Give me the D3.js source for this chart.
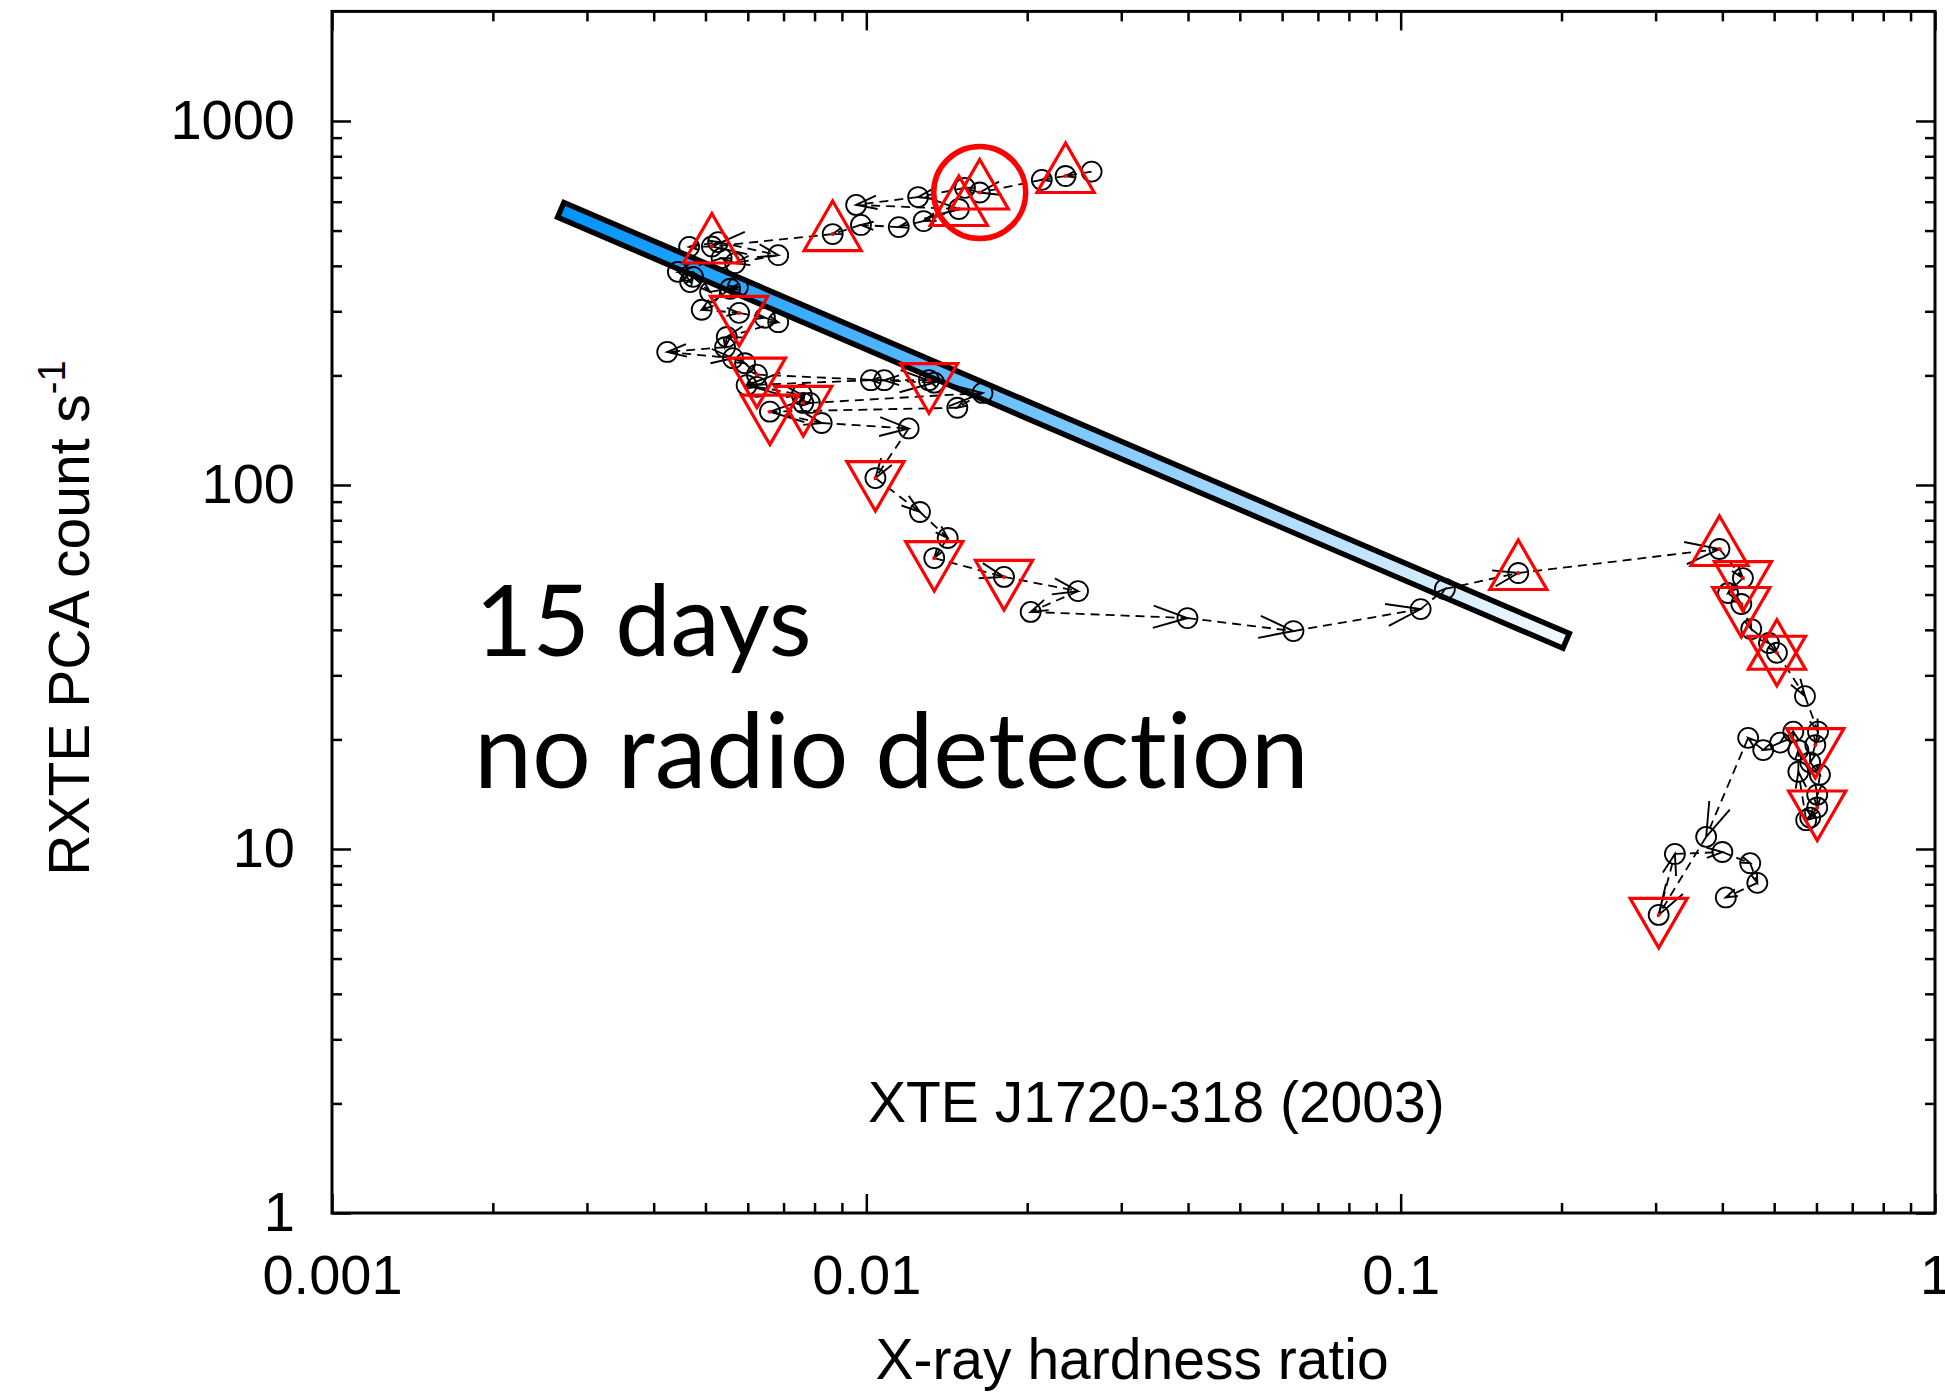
<!DOCTYPE html>
<html>
<head>
<meta charset="utf-8">
<script src="https://cdn.jsdelivr.net/npm/d3@7"></script>
<style>
  body { margin: 0; background: #fff; }
  svg text { font-family: "Liberation Sans", Arial, sans-serif; }
  .big { font-variant-ligatures: none; font-feature-settings: "liga" 0, "clig" 0; }
</style>
</head>
<body>
<script>
///////////////////////////////////////////
// Data : hardness-intensity track, XTE J1720-318 (2003), in time order
var hardness = [
  0.0264, 0.0236, 0.0213, 0.0163, 0.0153, 0.0125, 0.00957, 0.0149, 0.0128, 0.0115,
  0.00977, 0.00865, 0.00514, 0.00466, 0.00528, 0.00684, 0.00568, 0.00536, 0.00444, 0.00468,
  0.00474, 0.0051, 0.00575, 0.00556, 0.00492, 0.00578, 0.00646, 0.00684, 0.00548, 0.00544,
  0.00424, 0.00563, 0.00593, 0.00624, 0.0134, 0.0131, 0.0108, 0.0102, 0.00597, 0.00624,
  0.00757, 0.00762, 0.00784, 0.0165, 0.0148, 0.0066, 0.00825, 0.012, 0.0104, 0.0126,
  0.0142, 0.0134, 0.0181, 0.0249, 0.0203, 0.0399, 0.063, 0.109, 0.121, 0.166,
  0.395, 0.437, 0.41, 0.434, 0.453, 0.489, 0.506, 0.571, 0.604, 0.597,
  0.584, 0.609, 0.602, 0.602, 0.584, 0.574, 0.555, 0.555, 0.543, 0.513,
  0.477, 0.447, 0.373, 0.304, 0.326, 0.40, 0.451, 0.465, 0.406
];
var countRate = [
  726, 706, 689, 636, 655, 618, 588, 573, 531, 511,
  518, 489, 452, 451, 465, 428, 407, 420, 385, 361,
  373, 339, 350, 346, 303, 297, 288, 280, 255, 239,
  232, 223, 216, 201, 191, 194, 194, 194, 188, 186,
  177, 168, 168, 179, 163, 159, 148, 143, 104.5, 84.3,
  71.5, 63, 55.9, 51.1, 44.8, 43.1, 39.7, 45.6, 51.8, 57.3,
  66.7, 55.5, 50.5, 47.1, 40.2, 36.8, 34.6, 26.3, 21.0, 19.3,
  17.3, 16.0, 14.1, 13.0, 12.2, 12.0, 16.3, 18.7, 21.0, 19.6,
  18.7, 20.2, 10.8, 6.59, 9.69, 9.81, 9.14, 8.07, 7.36
];
// triangle markers: u = up, d = down, b = both, "" = none
var marker = [
  "", "u", "", "u", "", "", "", "u", "", "",
  "", "u", "u", "", "", "", "", "", "", "",
  "", "", "", "", "", "d", "", "", "", "",
  "", "", "", "d", "", "d", "", "", "", "",
  "", "d", "", "", "", "d", "", "", "d", "",
  "", "d", "d", "", "", "", "", "", "", "u",
  "u", "d", "", "d", "", "", "b", "", "", "d",
  "", "", "", "d", "", "", "", "", "", "",
  "", "", "", "d", "", "", "", "", ""
];
var circledIndex = 3;

// shaded band (jet line)
var bandHardness = [0.00268, 0.204];
var bandRate = [570, 37.3];

var xTicks = [0.001, 0.01, 0.1, 1];
var xTickLabels = ["0.001", "0.01", "0.1", "1"];
var yTicks = [1, 10, 100, 1000];
var yTickLabels = ["1", "10", "100", "1000"];

///////////////////////////////////////////
// Layout
var svgWidth = 1945, svgHeight = 1393;
var plotLeft = 332, plotRight = 1935, plotTop = 11.4, plotBottom = 1213;

var x = d3.scaleLog().domain([0.001, 1]).range([plotLeft, plotRight]);
var y = d3.scaleLog().domain([1, 2000]).range([plotBottom, plotTop]);

var svg = d3.select("body").append("svg")
  .attr("width", svgWidth).attr("height", svgHeight);

// minor ticks
var xMinor = [], yMinor = [];
[0.001, 0.01, 0.1].forEach(function(d){ for (var k = 2; k <= 9; k++) xMinor.push(d*k); });
[1, 10, 100].forEach(function(d){ for (var k = 2; k <= 9; k++) yMinor.push(d*k); });

///////////////////////////////////////////
// Band
var defs = svg.append("defs");
var b0 = [x(bandHardness[0]), y(bandRate[0])],
    b1 = [x(bandHardness[1]), y(bandRate[1])];
var grad = defs.append("linearGradient").attr("id", "bandGrad")
  .attr("gradientUnits", "userSpaceOnUse")
  .attr("x1", b0[0]).attr("y1", b0[1]).attr("x2", b1[0]).attr("y2", b1[1]);
grad.append("stop").attr("offset", 0).attr("stop-color", "#0094ff");
grad.append("stop").attr("offset", 1).attr("stop-color", "#f4f9ff");

var bl = Math.hypot(b1[0]-b0[0], b1[1]-b0[1]);
var nx = -(b1[1]-b0[1])/bl, ny = (b1[0]-b0[0])/bl, hw = 8;
svg.append("path")
  .attr("d", "M" + [b0[0]+nx*hw, b0[1]+ny*hw] + "L" + [b1[0]+nx*hw, b1[1]+ny*hw] +
             "L" + [b1[0]-nx*hw, b1[1]-ny*hw] + "L" + [b0[0]-nx*hw, b0[1]-ny*hw] + "Z")
  .attr("fill", "url(#bandGrad)")
  .attr("stroke", "#000").attr("stroke-width", 5.5).attr("stroke-linejoin", "miter");

///////////////////////////////////////////
// Track
var pts = hardness.map(function(h, i){ return [x(h), y(countRate[i])]; });
var track = svg.append("g").classed("track", true);

for (var i = 1; i < pts.length; i++) {
  var p0 = pts[i-1], p1 = pts[i];
  track.append("line")
    .attr("x1", p0[0]).attr("y1", p0[1]).attr("x2", p1[0]).attr("y2", p1[1])
    .attr("stroke", "#000").attr("stroke-width", 1.8).attr("stroke-dasharray", "9,6");
  var dx = p1[0]-p0[0], dy = p1[1]-p0[1], len = Math.hypot(dx, dy);
  if (len < 1) continue;
  var ux = dx/len, uy = dy/len;
  var L = Math.max(10, Math.min(36, 0.35*len)), a = 18*Math.PI/180;
  var w1 = [p1[0] - L*(ux*Math.cos(a) - uy*Math.sin(a)), p1[1] - L*(uy*Math.cos(a) + ux*Math.sin(a))];
  var w2 = [p1[0] - L*(ux*Math.cos(a) + uy*Math.sin(a)), p1[1] - L*(uy*Math.cos(a) - ux*Math.sin(a))];
  track.append("path")
    .attr("d", "M" + w1 + "L" + p1 + "L" + w2)
    .attr("fill", "none").attr("stroke", "#000").attr("stroke-width", 1.9);
}

track.selectAll("circle.obs").data(pts).enter().append("circle").classed("obs", true)
  .attr("cx", function(d){ return d[0]; }).attr("cy", function(d){ return d[1]; })
  .attr("r", 10).attr("fill", "none").attr("stroke", "#000").attr("stroke-width", 1.8);

// red triangles
var R = 33;
function triPath(p, up) {
  var s = up ? 1 : -1;
  return "M" + [p[0], p[1] - s*R] + "L" + [p[0] + R*0.866, p[1] + s*R/2] +
         "L" + [p[0] - R*0.866, p[1] + s*R/2] + "Z";
}
var marks = svg.append("g").classed("marks", true);
pts.forEach(function(p, i){
  var m = marker[i];
  if (!m) return;
  if (m === "u" || m === "b")
    marks.append("path").attr("d", triPath(p, true));
  if (m === "d" || m === "b")
    marks.append("path").attr("d", triPath(p, false));
  marks.append("circle").attr("cx", p[0]).attr("cy", p[1]).attr("r", 2).attr("fill", "#f00");
});
marks.selectAll("path").attr("fill", "none").attr("stroke", "#f00").attr("stroke-width", 3.2);

svg.append("circle")
  .attr("cx", pts[circledIndex][0]).attr("cy", pts[circledIndex][1])
  .attr("r", 46).attr("fill", "none").attr("stroke", "#f00").attr("stroke-width", 5.5);

///////////////////////////////////////////
// Axes / frame
function styleAxis(g) {
  g.select(".domain").remove();
  g.selectAll(".tick line").attr("stroke", "#000").attr("stroke-width", 2.5);
  g.attr("font-family", "'Liberation Sans', Arial, sans-serif").attr("font-size", 56);
  g.selectAll("text").attr("fill", "#000");
}
svg.append("g").attr("transform", "translate(0," + plotBottom + ")")
  .call(d3.axisBottom(x).tickValues(xTicks).tickSize(-19).tickPadding(41)
        .tickFormat(function(d, i){ return xTickLabels[i]; })).call(styleAxis);
svg.append("g").attr("transform", "translate(0," + plotBottom + ")")
  .call(d3.axisBottom(x).tickValues(xMinor).tickSize(-10).tickFormat("")).call(styleAxis);
svg.append("g").attr("transform", "translate(0," + plotTop + ")")
  .call(d3.axisTop(x).tickValues(xTicks).tickSize(-19).tickFormat("")).call(styleAxis);
svg.append("g").attr("transform", "translate(0," + plotTop + ")")
  .call(d3.axisTop(x).tickValues(xMinor).tickSize(-10).tickFormat("")).call(styleAxis);

svg.append("g").attr("transform", "translate(" + plotLeft + ",0)")
  .call(d3.axisLeft(y).tickValues(yTicks).tickSize(-19).tickPadding(37)
        .tickFormat(function(d, i){ return yTickLabels[i]; })).call(styleAxis);
svg.append("g").attr("transform", "translate(" + plotLeft + ",0)")
  .call(d3.axisLeft(y).tickValues(yMinor).tickSize(-10).tickFormat("")).call(styleAxis);
svg.append("g").attr("transform", "translate(" + plotRight + ",0)")
  .call(d3.axisRight(y).tickValues(yTicks).tickSize(-19).tickFormat("")).call(styleAxis);
svg.append("g").attr("transform", "translate(" + plotRight + ",0)")
  .call(d3.axisRight(y).tickValues(yMinor).tickSize(-10).tickFormat("")).call(styleAxis);

svg.append("rect")
  .attr("x", plotLeft).attr("y", plotTop)
  .attr("width", plotRight - plotLeft).attr("height", plotBottom - plotTop)
  .attr("fill", "none").attr("stroke", "#000").attr("stroke-width", 3);

///////////////////////////////////////////
// Titles and annotations
svg.append("text").attr("x", 1132).attr("y", 1379).attr("text-anchor", "middle")
  .attr("font-size", 57).text("X-ray hardness ratio");

var yt = svg.append("text").attr("transform", "translate(89,618) rotate(-90)")
  .attr("text-anchor", "middle").attr("font-size", 57);
yt.append("tspan").text("RXTE PCA count s");
yt.append("tspan").attr("dy", -24).attr("font-size", 38).text("-1");

svg.append("text").attr("x", 868).attr("y", 1122).attr("font-size", 57)
  .text("XTE J1720-318 (2003)");

svg.append("text").classed("big", true).attr("x", 475).attr("y", 656)
  .style("font-family", "Lato, 'Open Sans', sans-serif").attr("font-size", 99)
  .text("15 days");
svg.append("text").classed("big", true).attr("x", 474).attr("y", 788)
  .style("font-family", "Lato, 'Open Sans', sans-serif").attr("font-size", 104)
  .text("no radio detection");
</script>
</body>
</html>
